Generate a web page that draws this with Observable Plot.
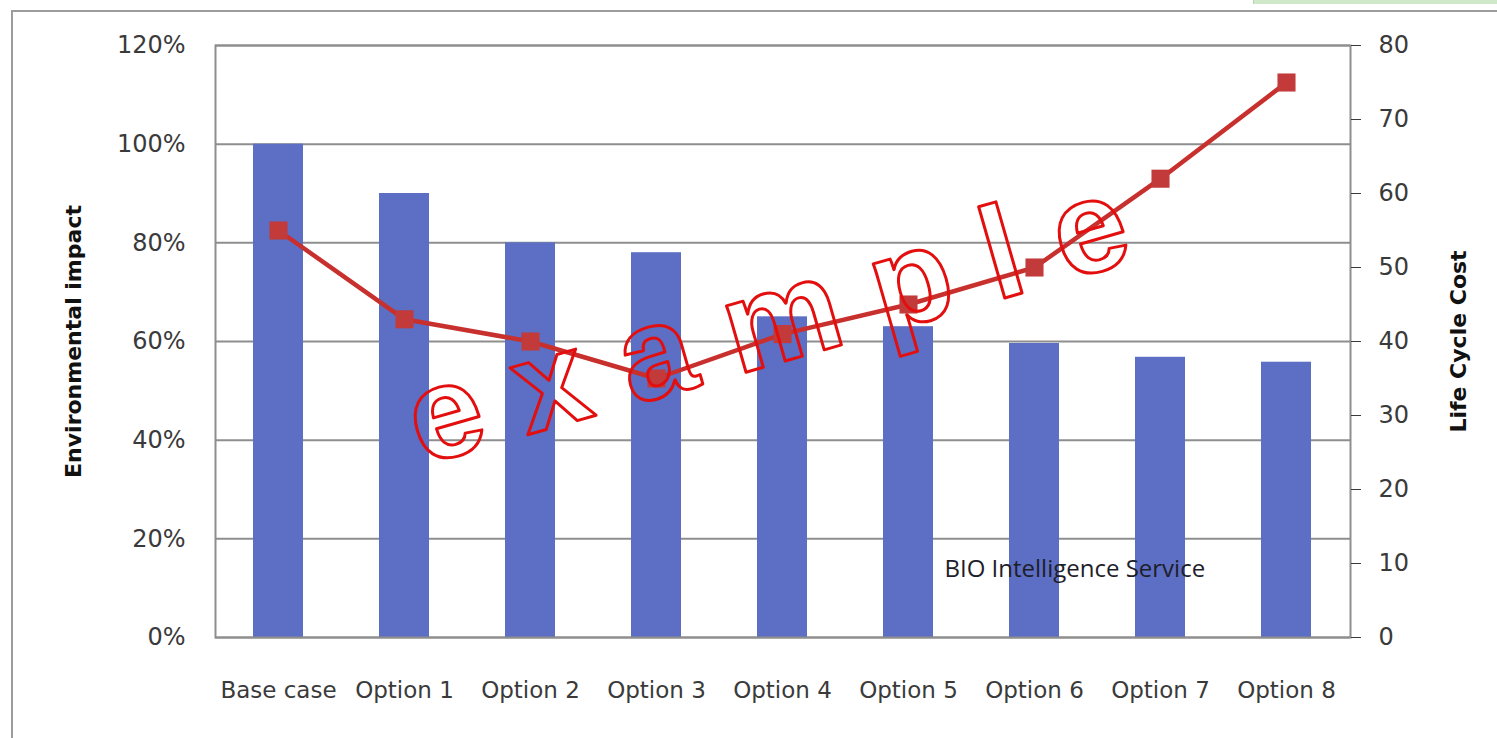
<!DOCTYPE html>
<html>
<head>
<meta charset="utf-8">
<script src="https://cdn.jsdelivr.net/npm/d3@7"></script>
<script src="https://cdn.jsdelivr.net/npm/@observablehq/plot@0.6"></script>
<style>
  html, body { margin: 0; padding: 0; background: #ffffff; overflow: hidden; }
  #wrap { position: relative; width: 1497px; height: 738px; }
  #border { position: absolute; left: 11px; top: 10px; width: 1500px; height: 740px;
            border-top: 2px solid #9c9c9c; border-left: 2px solid #9c9c9c; }
  #tab { position: absolute; left: 1253px; top: 0px; width: 250px; height: 4px;
         background: #cfe8c9; border-left: 1px solid #b5d6ad; }
  #chart { position: absolute; left: 0; top: 0; }
</style>
</head>
<body>
<div id="wrap">
  <div id="border"></div>
  <div id="tab"></div>
  <div id="chart"></div>
</div>
<script>
// ---- data ----
const categories = ["Base case", "Option 1", "Option 2", "Option 3", "Option 4", "Option 5", "Option 6", "Option 7", "Option 8"];
const envImpact = [1.00, 0.90, 0.80, 0.78, 0.65, 0.63, 0.596, 0.568, 0.558];   // left axis (share)
const lifeCycleCost = [55, 43, 40, 35, 41, 45, 50, 62, 75];                      // right axis
const pctTicks = [0, 0.2, 0.4, 0.6, 0.8, 1.0, 1.2];
const lccTicks = [0, 10, 20, 30, 40, 50, 60, 70, 80];
const lccMax = 80;
const pctMax = 1.2;
const leftTitle = "Environmental impact";
const rightTitle = "Life Cycle Cost";
const sourceNote = "BIO Intelligence Service";
const watermark = "e x a m p l e";

const rows = categories.map((c, i) => ({category: c, env: envImpact[i], lcc: lifeCycleCost[i]}));
const toLeft = v => v / lccMax * pctMax;

const chart = Plot.plot({
  width: 1497,
  height: 738,
  marginLeft: 215,
  marginRight: 147,
  marginTop: 45,
  marginBottom: 101,
  style: {fontFamily: "DejaVu Sans", background: "transparent", overflow: "visible"},
  x: {domain: categories, paddingInner: 0.6, paddingOuter: 0.3, label: null},
  y: {domain: [0, pctMax], label: null},
  marks: [
    Plot.ruleY(pctTicks, {stroke: "#8e8e8e", strokeWidth: 2}),
    Plot.barY(rows, {x: "category", y: "env", fill: "#5c6fc4"}),
    Plot.frame({stroke: "#8e8e8e", strokeWidth: 2}),
    Plot.text([sourceNote], {x: () => categories[6], y: () => 0.138, text: d => d, textAnchor: "start",
      dx: -90, fontFamily: "Open Sans", fontSize: 24, fill: "#1e1e2a"}),
    Plot.line(rows, {x: "category", y: d => toLeft(d.lcc), stroke: "#c8302e", strokeWidth: 4.5}),
    Plot.dot(rows, {x: "category", y: d => toLeft(d.lcc), symbol: "square", r: 10.2, fill: "#c23a3a", stroke: "none"}),
    Plot.text([watermark], {x: () => categories[4], y: () => 0.6223, text: d => d, rotate: -16,
      dx: -15, dy: -8, fontFamily: "Liberation Sans", fontWeight: "bold", fontSize: 131,
      fill: "none", stroke: "#e30e0e", strokeWidth: 3}),
    Plot.axisX({tickSize: 0, tickPadding: 44, fontSize: 23, color: "#3a3a3a", label: null}),
    Plot.axisY(pctTicks, {tickSize: 0, tickPadding: 30, fontSize: 24, color: "#3a3a3a",
      tickFormat: d => Math.round(d * 100) + "%", label: null}),
    Plot.axisY(lccTicks, {y: toLeft, anchor: "right", tickSize: 10, tickPadding: 18, fontSize: 24,
      color: "#3a3a3a", tickFormat: d => String(d), label: null}),
    Plot.text([leftTitle], {frameAnchor: "left", dx: -142, rotate: -90, text: d => d, textAnchor: "middle",
      fontWeight: "bold", fontSize: 22, fill: "#111"}),
    Plot.text([rightTitle], {frameAnchor: "right", dx: 108, rotate: -90, text: d => d, textAnchor: "middle",
      fontWeight: "bold", fontSize: 22, fill: "#111"})
  ]
});
document.getElementById("chart").appendChild(chart);
</script>
</body>
</html>
